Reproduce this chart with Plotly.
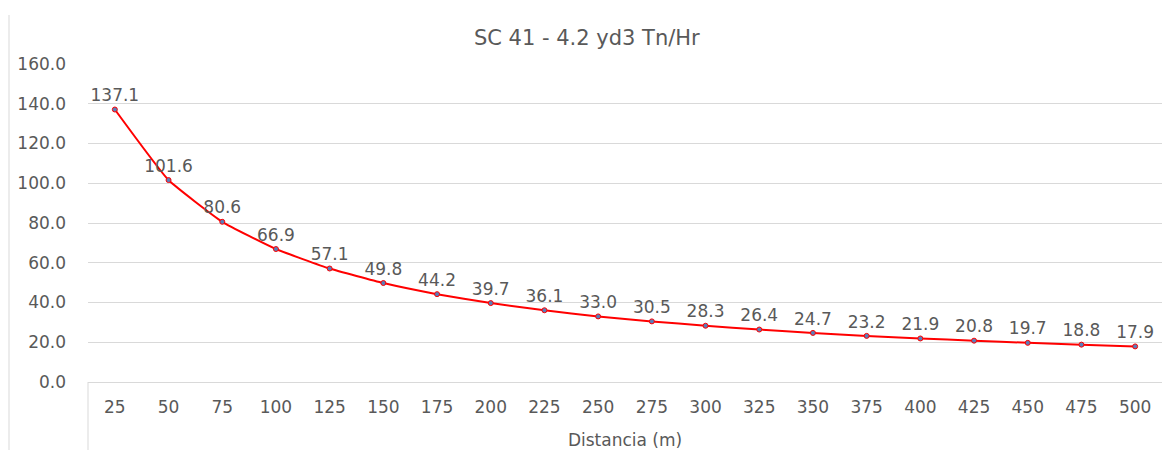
import plotly.graph_objects as go

distancias = ["25", "50", "75", "100", "125", "150", "175", "200", "225", "250",
              "275", "300", "325", "350", "375", "400", "425", "450", "475", "500"]
tn_hr = [137.1, 101.6, 80.6, 66.9, 57.1, 49.8, 44.2, 39.7, 36.1, 33.0,
         30.5, 28.3, 26.4, 24.7, 23.2, 21.9, 20.8, 19.7, 18.8, 17.9]
y_ticks = [0, 20, 40, 60, 80, 100, 120, 140, 160]

FONT = "DejaVu Sans"
GREY = "#595959"
GRID = "#d9d9d9"

fig = go.Figure()
fig.add_trace(go.Scatter(
    x=distancias, y=tn_hr,
    mode="lines+markers+text",
    line=dict(color="#FF0000", width=2, shape="spline", smoothing=0.4),
    marker=dict(size=5, color="#5B7DB8", line=dict(color="#FF0000", width=1)),
    text=[f"{v:.1f}" for v in tn_hr],
    textposition="top center",
    textfont=dict(family=FONT, size=17, color=GREY),
    cliponaxis=False,
    showlegend=False,
))

fig.update_layout(
    width=1162, height=450,
    margin=dict(l=88, r=0, t=64, b=68, autoexpand=False),
    paper_bgcolor="white", plot_bgcolor="white",
    title=dict(text="SC 41 - 4.2 yd3 Tn/Hr", x=0.505, xanchor="center",
               y=1 - 38 / 450, yanchor="middle",
               font=dict(family=FONT, size=21, color=GREY)),
    xaxis=dict(
        type="category", range=[-0.5, 19.5],
        showline=True, linecolor=GRID, linewidth=1,
        showgrid=False, ticks="",
        tickfont=dict(family=FONT, size=17, color=GREY),
        ticklabelstandoff=10,
        title=dict(text="Distancia (m)", standoff=20,
                   font=dict(family=FONT, size=17, color=GREY)),
        automargin=False,
    ),
    yaxis=dict(
        range=[0, 160], tickvals=y_ticks, tickformat=".1f",
        showgrid=True, gridcolor=GRID, gridwidth=1,
        zeroline=False, showline=False, ticks="",
        tickfont=dict(family=FONT, size=17, color=GREY),
        ticklabelstandoff=21,
        automargin=False,
    ),
    shapes=[
        dict(type="line", xref="paper", yref="paper",
             x0=0, x1=0, y0=0, y1=-0.3, line=dict(color=GRID, width=1)),
        dict(type="line", xref="paper", yref="paper",
             x0=(9 - 88) / 1074, x1=(9 - 88) / 1074, y0=(382 - 15) / 318, y1=-0.3,
             line=dict(color=GRID, width=1)),
    ],
)

fig.write_html("out.html")
